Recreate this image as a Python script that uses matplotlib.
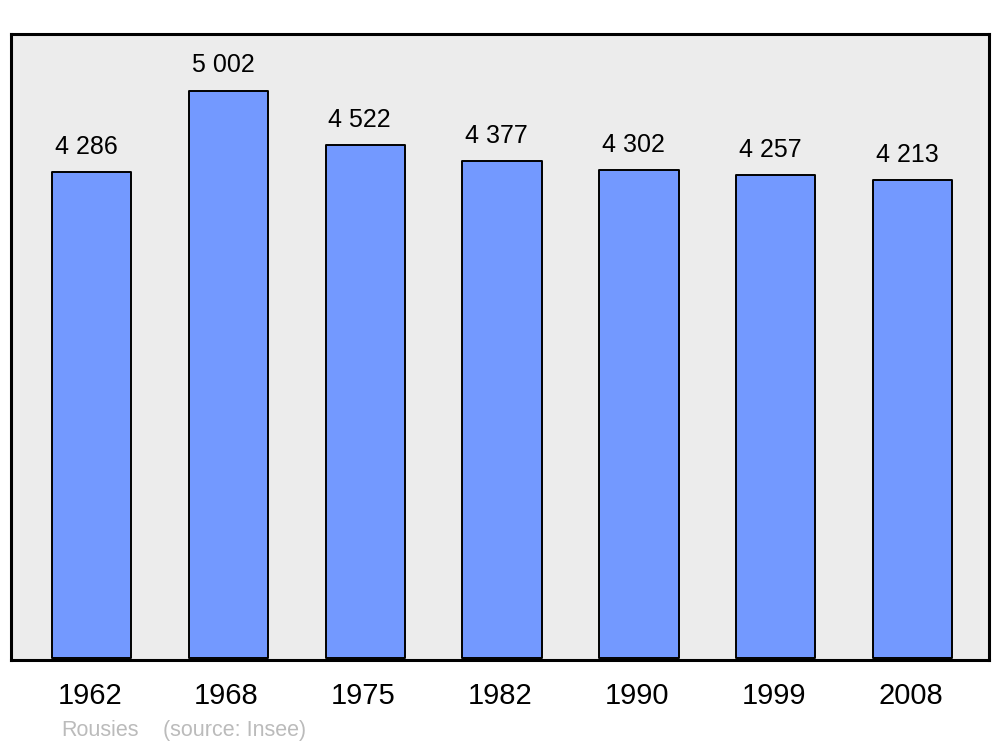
import matplotlib
matplotlib.use("Agg")
import matplotlib.pyplot as plt
import matplotlib.transforms as mtransforms
import numpy as np

# Population data
years = ["1962", "1968", "1975", "1982", "1990", "1999", "2008"]
population = [4286, 5002, 4522, 4377, 4302, 4257, 4213]
value_labels = ["4 286", "5 002", "4 522", "4 377", "4 302", "4 257", "4 213"]
town = "Rousies"
source = "(source: Insee)"

plt.rcParams['font.family'] = ['Liberation Sans', 'DejaVu Sans']

fig = plt.figure(figsize=(10, 7.47), dpi=100)
ax = fig.add_axes([0.011, 0.1165, 0.978, 0.838])
ax.set_facecolor("#ececec")

x = np.arange(len(years))
ax.bar(x, population, width=0.58, color="#7399ff", edgecolor="black",
       linewidth=1.4, joinstyle="round")

# value labels above each bar
for xi, val, lab in zip(x, population, value_labels):
    ax.text(xi - 0.04, val + 222, lab, ha="center", va="center", fontsize=18)

ax.set_xlim(-0.59, 6.56)
ax.set_ylim(-15, 5500)

for s in ax.spines.values():
    s.set_linewidth(2.2)
    s.set_joinstyle("round")

ax.set_yticks([])
ax.set_xticks(x)
ax.set_xticklabels(years, fontsize=21)
ax.tick_params(axis="x", length=0, pad=16)
# nudge year labels slightly left, like the original
shift = mtransforms.ScaledTranslation(-2 / 100, 0, fig.dpi_scale_trans)
for lbl in ax.get_xticklabels():
    lbl.set_transform(lbl.get_transform() + shift)

fig.text(0.061, 0.015, town, fontsize=15.5, color="#bbbbbb", va="baseline")
fig.text(0.163, 0.015, source, fontsize=15.5, color="#bbbbbb", va="baseline")

fig.savefig("out.png", dpi=100)
